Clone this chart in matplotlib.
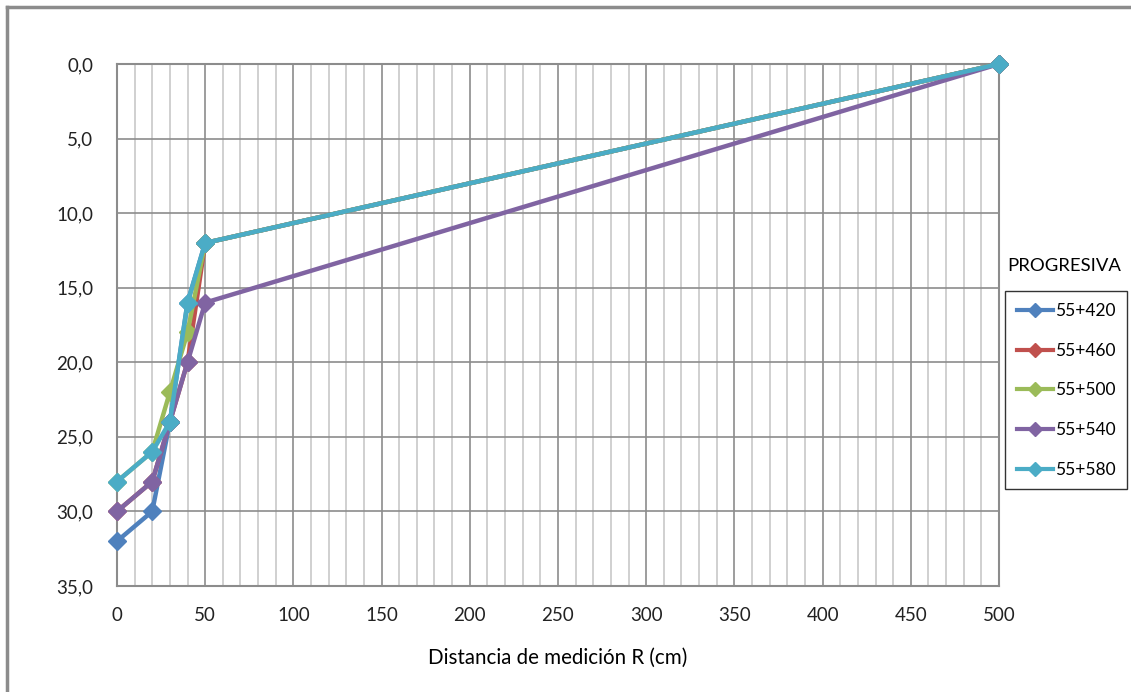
import matplotlib.pyplot as plt
from matplotlib.lines import Line2D
from matplotlib.ticker import MultipleLocator, FuncFormatter

plt.rcParams['font.family'] = ['Lato', 'DejaVu Sans']
plt.rcParams['font.size'] = 13

distancia = [0, 20, 30, 40, 50, 500]
progresivas = ['55+420', '55+460', '55+500', '55+540', '55+580']
prof_420 = [32, 30, 24, 16, 12, 0]
prof_460 = [30, 28, 24, 20, 12, 0]
prof_500 = [28, 26, 22, 18, 12, 0]
prof_540 = [30, 28, 24, 20, 16, 0]
prof_580 = [28, 26, 24, 16, 12, 0]
series = [prof_420, prof_460, prof_500, prof_540, prof_580]
colores = ['#4F81BD', '#C0504D', '#9BBB59', '#8064A2', '#4BACC6']

fig = plt.figure(figsize=(11.31, 6.92), dpi=100)
ax = fig.add_axes([0.1034, 0.1532, 0.7799, 0.7543])

for prof, col, lab in zip(series, colores, progresivas):
    ax.plot(distancia, prof, color=col, lw=3.2, marker='D', ms=9.5,
            markeredgecolor=col, label=lab, clip_on=False, zorder=3)

ax.set_xlim(0, 500)
ax.set_ylim(35, 0)
ax.xaxis.set_major_locator(MultipleLocator(50))
ax.xaxis.set_minor_locator(MultipleLocator(10))
ax.yaxis.set_major_locator(MultipleLocator(5))
ax.yaxis.set_major_formatter(FuncFormatter(lambda v, p: '{:.1f}'.format(v).replace('.', ',')))

ax.grid(which='major', axis='both', color='#8c8c8c', lw=1.2)
ax.grid(which='minor', axis='x', color='#c8c8c8', lw=1.2)
ax.set_axisbelow(True)
ax.tick_params(which='both', length=0, labelsize=13.5, colors='#222222')
ax.tick_params(axis='x', pad=15)
ax.tick_params(axis='y', pad=17)
for s in ax.spines.values():
    s.set_color('#8c8c8c')
    s.set_linewidth(1.5)

ax.set_xlabel('Distancia de medición R (cm)', fontsize=14.8, labelpad=17)

fig.text(0.9405, 0.615, 'PROGRESIVA', ha='center', va='center', fontsize=13.3)
leg = ax.legend(loc='upper left', bbox_to_anchor=(0.889, 0.579), bbox_transform=fig.transFigure,
                frameon=True, fancybox=False, edgecolor='black', fontsize=12.5,
                handlelength=2.05, labelspacing=1.36, borderpad=0.68, handletextpad=0.1,
                markerscale=0.8, borderaxespad=0)
leg.get_frame().set_linewidth(1.0)
for h in leg.legend_handles:
    h.set_linewidth(3)

# borde del grafico
fig.add_artist(Line2D([0.006, 0.006], [0.0, 0.99], color='#8c8c8c', lw=2.5, transform=fig.transFigure))
fig.add_artist(Line2D([0.006, 1.0], [0.99, 0.99], color='#8c8c8c', lw=2.5, transform=fig.transFigure))

fig.savefig('out.png', dpi=100)
